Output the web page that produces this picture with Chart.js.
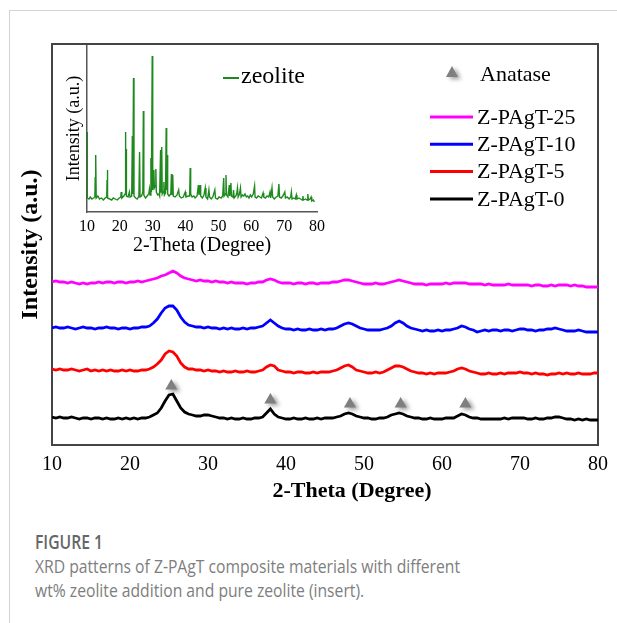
<!DOCTYPE html>
<html>
<head>
<meta charset="utf-8">
<script src="https://cdn.jsdelivr.net/npm/chart.js@4.4.1/dist/chart.umd.min.js"></script>
<style>
  html, body { margin: 0; padding: 0; background: #fff; }
  body { width: 617px; height: 623px; position: relative; overflow: hidden; }
  #frame { position: absolute; left: 9px; top: 10px; width: 620px; height: 620px; border-left: 1px solid #d4d4d4; border-top: 1px solid #d4d4d4; }
  #mainChart { position: absolute; left: 0; top: 0; }
  #insetChart { position: absolute; left: 56px; top: 45px; }
  .cap { position: absolute; left: 35px; font-family: "Open Sans", sans-serif; white-space: nowrap; transform-origin: 0 0; }
  #capLabel { top: 529px; font-size: 19px; font-weight: 600; color: #666; line-height: 26px; }
  #capText { top: 554px; font-size: 18px; color: #7e7e7e; line-height: 24px; }
</style>
</head>
<body>
<div id="frame"></div>
<canvas id="mainChart" width="617" height="510"></canvas>
<canvas id="insetChart" width="274" height="215"></canvas>
<div class="cap" id="capLabel">FIGURE 1</div>
<div class="cap" id="capText"><span id="capLine1">XRD patterns of Z-PAgT composite materials with different</span><br><span>wt% zeolite addition and pure zeolite (insert).</span></div>
<script>
// 2-theta grid of the composite scans (degrees)
const twoTheta = [
  10, 10.5, 11, 11.5, 12, 12.5, 13, 13.5, 14, 14.5,
  15, 15.5, 16, 16.5, 17, 17.5, 18, 18.5, 19, 19.5,
  20, 20.5, 21, 21.5, 22, 22.5, 23, 23.5, 24, 24.5,
  25, 25.5, 26, 26.5, 27, 27.5, 28, 28.5, 29, 29.5,
  30, 30.5, 31, 31.5, 32, 32.5, 33, 33.5, 34, 34.5,
  35, 35.5, 36, 36.5, 37, 37.5, 38, 38.5, 39, 39.5,
  40, 40.5, 41, 41.5, 42, 42.5, 43, 43.5, 44, 44.5,
  45, 45.5, 46, 46.5, 47, 47.5, 48, 48.5, 49, 49.5,
  50, 50.5, 51, 51.5, 52, 52.5, 53, 53.5, 54, 54.5,
  55, 55.5, 56, 56.5, 57, 57.5, 58, 58.5, 59, 59.5,
  60, 60.5, 61, 61.5, 62, 62.5, 63, 63.5, 64, 64.5,
  65, 65.5, 66, 66.5, 67, 67.5, 68, 68.5, 69, 69.5,
  70, 70.5, 71, 71.5, 72, 72.5, 73, 73.5, 74, 74.5,
  75, 75.5, 76, 76.5, 77, 77.5, 78, 78.5, 79, 79.5,
  80,
]

// stacked intensities (a.u.), offset per sample as in the figure
const pagt0 = [
  28, 27, 28, 27, 27, 28, 27, 26, 27, 27,
  26, 27, 27, 26, 27, 26, 26, 27, 26, 27,
  26, 27, 26, 27, 27, 28, 30, 32, 37, 44,
  50, 51, 44, 37, 33, 31, 30, 29, 29, 30,
  30, 29, 28, 27, 27, 26, 27, 26, 26, 27,
  26, 26, 27, 27, 28, 32, 36, 31, 28, 27,
  26, 26, 27, 26, 26, 27, 26, 26, 27, 26,
  27, 27, 27, 28, 29, 31, 32, 31, 29, 28,
  27, 27, 26, 26, 27, 27, 28, 30, 31, 32,
  31, 29, 28, 27, 27, 26, 26, 27, 26, 26,
  26, 27, 27, 27, 29, 31, 30, 28, 27, 27,
  26, 26, 26, 26, 26, 26, 27, 26, 27, 27,
  27, 27, 26, 26, 27, 26, 26, 27, 27, 28,
  28, 27, 26, 26, 25, 26, 25, 26, 25, 25,
  25,
]
const pagt5 = [
  76, 75, 76, 75, 75, 76, 75, 74, 75, 76,
  74, 75, 74, 75, 74, 75, 74, 74, 75, 74,
  75, 74, 74, 75, 75, 76, 78, 81, 85, 91,
  94, 93, 89, 82, 78, 76, 76, 75, 75, 74,
  75, 74, 74, 73, 74, 73, 73, 74, 73, 73,
  74, 73, 73, 74, 75, 78, 80, 79, 75, 74,
  73, 73, 72, 73, 73, 72, 72, 73, 72, 73,
  73, 73, 74, 75, 77, 79, 80, 78, 75, 74,
  73, 72, 72, 73, 72, 73, 75, 77, 79, 79,
  78, 76, 74, 73, 72, 72, 71, 72, 71, 72,
  72, 72, 73, 74, 76, 77, 76, 74, 73, 72,
  71, 71, 72, 71, 71, 72, 71, 72, 72, 72,
  73, 72, 72, 71, 72, 71, 71, 70, 71, 71,
  72, 71, 72, 71, 71, 72, 71, 71, 71, 72,
  72,
]
const pagt10 = [
  117, 118, 117, 117, 118, 117, 116, 117, 118, 117,
  117, 116, 117, 117, 118, 117, 117, 116, 117, 117,
  116, 117, 117, 118, 118, 119, 122, 126, 132, 137,
  139, 139, 135, 128, 123, 120, 119, 118, 118, 117,
  118, 117, 117, 116, 117, 116, 117, 116, 116, 117,
  116, 117, 117, 118, 119, 122, 125, 122, 119, 117,
  116, 116, 115, 116, 115, 115, 116, 115, 115, 116,
  115, 116, 116, 117, 119, 121, 122, 121, 119, 117,
  116, 115, 115, 115, 115, 116, 117, 119, 122, 124,
  122, 119, 117, 116, 115, 114, 115, 114, 114, 115,
  114, 115, 115, 116, 117, 119, 118, 116, 115, 113,
  114, 115, 114, 115, 115, 114, 115, 115, 114, 115,
  116, 116, 115, 115, 114, 115, 115, 116, 116, 117,
  116, 115, 114, 114, 114, 115, 114, 113, 113, 113,
  113,
]
const pagt25 = [
  163, 164, 163, 163, 162, 163, 162, 161, 162, 161,
  162, 162, 163, 162, 163, 163, 162, 163, 163, 162,
  163, 163, 164, 163, 164, 165, 166, 167, 169, 170,
  172, 174, 172, 169, 167, 166, 165, 164, 165, 164,
  164, 163, 164, 163, 163, 162, 163, 162, 162, 162,
  161, 162, 162, 163, 163, 165, 166, 165, 163, 162,
  162, 162, 161, 162, 162, 161, 162, 162, 161, 162,
  162, 162, 163, 163, 164, 165, 165, 164, 163, 162,
  161, 161, 161, 162, 161, 161, 162, 163, 164, 165,
  164, 163, 162, 161, 161, 161, 160, 161, 161, 161,
  161, 162, 161, 162, 162, 162, 162, 161, 161, 161,
  161, 160, 161, 160, 160, 160, 160, 161, 160, 160,
  160, 160, 160, 159, 160, 160, 159, 159, 160, 159,
  160, 160, 160, 159, 160, 159, 159, 158, 158, 158,
  158,
]
const seriesNames = [`Z-PAgT-0`, `Z-PAgT-5`, `Z-PAgT-10`, `Z-PAgT-25`]

// anatase reflections marked above the Z-PAgT-0 pattern
const anataseTheta = [25.3, 38, 48.2, 54.7, 63]
const anataseMark = [59, 45, 41, 41, 41]

// inset: pure zeolite pattern
const zeoliteTheta = [
  10.0, 10.1, 10.6, 11.0, 11.5, 12.0, 12.4, 12.5, 12.6, 12.7,
  12.8, 13.3, 13.8, 14.4, 15.0, 15.5, 16.0, 16.1, 16.2, 16.3,
  16.9, 17.5, 18.0, 18.6, 19.2, 19.8, 20.3, 20.4, 20.6, 21.2,
  21.6, 21.7, 21.8, 21.9, 22.0, 22.5, 22.9, 23.1, 23.6, 23.8,
  23.95, 24.15, 24.3, 24.8, 25.3, 25.8, 26.0, 26.15, 26.6, 27.0,
  27.15, 27.3, 27.8, 28.3, 28.8, 29.0, 29.2, 29.45, 29.6, 29.85,
  30.0, 30.2, 30.35, 30.5, 30.8, 30.95, 31.1, 31.5, 31.9, 32.1,
  32.4, 32.55, 32.75, 32.9, 33.2, 33.4, 33.55, 33.9, 34.1, 34.25,
  34.4, 34.55, 35.0, 35.5, 35.7, 35.85, 36.1, 36.25, 36.8, 37.4,
  37.9, 38.1, 38.7, 39.3, 39.9, 40.1, 40.8, 41.25, 41.4, 41.55,
  42.0, 42.5, 42.9, 43.5, 43.9, 44.1, 44.4, 44.6, 45.1, 45.6,
  46.0, 46.2, 46.7, 47.1, 47.3, 47.8, 48.3, 48.9, 49.1, 49.7,
  50.2, 50.8, 51.3, 51.6, 51.75, 52.1, 52.3, 52.45, 52.9, 53.3,
  53.45, 53.8, 53.95, 54.4, 54.6, 54.8, 55.3, 55.6, 55.8, 56.0,
  56.4, 56.7, 56.9, 57.3, 57.7, 58.1, 58.5, 58.9, 59.3, 59.7,
  60.1, 60.6, 61.0, 61.15, 61.6, 62.1, 62.6, 63.1, 63.6, 63.8,
  64.3, 64.8, 65.3, 65.7, 65.9, 66.3, 66.5, 67.0, 67.6, 68.1,
  68.4, 68.6, 69.1, 69.6, 70.2, 70.4, 70.9, 71.5, 72.0, 72.2,
  72.4, 72.9, 73.4, 73.7, 73.9, 74.5, 75.0, 75.5, 75.7, 75.9,
  76.5, 77.0, 77.2, 77.4, 77.9, 78.2, 78.4, 78.9, 79.2,
]
const zeoliteCounts = [
  80, 14, 13, 15, 13, 14, 15, 35, 16, 57,
  14, 16, 13, 14, 12, 14, 15, 32, 42, 14,
  13, 12, 14, 13, 12, 14, 15, 20, 14, 16,
  18, 80, 20, 63, 16, 15, 20, 15, 16, 76,
  18, 134, 16, 14, 13, 16, 60, 15, 16, 20,
  101, 17, 14, 16, 18, 23, 17, 54, 20, 156,
  22, 30, 42, 24, 26, 43, 20, 17, 18, 16,
  62, 20, 65, 18, 20, 30, 17, 19, 84, 22,
  57, 18, 16, 18, 38, 17, 37, 16, 15, 17,
  22, 16, 14, 15, 20, 15, 16, 16, 44, 18,
  15, 16, 14, 16, 27, 17, 27, 16, 14, 17,
  24, 15, 13, 22, 15, 13, 15, 22, 14, 13,
  15, 14, 16, 34, 16, 18, 37, 17, 15, 27,
  16, 29, 16, 15, 22, 14, 16, 19, 24, 15,
  18, 24, 15, 17, 16, 18, 15, 16, 14, 17,
  15, 18, 26, 15, 14, 16, 15, 14, 19, 15,
  14, 16, 15, 20, 14, 24, 15, 13, 15, 16,
  28, 15, 14, 16, 20, 14, 15, 13, 15, 20,
  13, 14, 13, 17, 13, 14, 13, 12, 16, 12,
  13, 12, 18, 12, 13, 15, 11, 12, 10,
]

const toPoints = (xs, ys) => xs.map((x, i) => ({ x: x, y: ys[i] }))

const serif = `"Liberation Serif", "Times New Roman", serif`
const frameColor = `#444444`

const stackPlugin = {
  id: "stackDecor",
  beforeDatasetDraw(chart, args) {
    if (chart.data.datasets[args.index].label !== `Anatase`) return
    const ctx = chart.ctx
    ctx.save()
    ctx.shadowColor = `rgba(0, 0, 0, 0.4)`
    ctx.shadowBlur = 4
    ctx.shadowOffsetX = 3
    ctx.shadowOffsetY = 2
  },
  afterDatasetDraw(chart, args) {
    if (chart.data.datasets[args.index].label !== `Anatase`) return
    chart.ctx.restore()
  },
  afterDraw(chart) {
    const ctx = chart.ctx
    ctx.save()
    ctx.fillStyle = `#000`
    ctx.textBaseline = "middle"

    // x axis title (sits right of centre in the original)
    ctx.font = `bold 22px ${serif}`
    ctx.textAlign = "center"
    ctx.fillText(`2-Theta (Degree)`, 352, 491)

    // anatase key
    ctx.save()
    ctx.shadowColor = `rgba(0, 0, 0, 0.4)`
    ctx.shadowBlur = 4
    ctx.shadowOffsetX = 3
    ctx.shadowOffsetY = 2
    ctx.fillStyle = `#7f7f7f`
    ctx.beginPath()
    ctx.moveTo(452, 66)
    ctx.lineTo(458, 77)
    ctx.lineTo(446, 77)
    ctx.closePath()
    ctx.fill()
    ctx.restore()
    ctx.font = `22px ${serif}`
    ctx.textAlign = "left"
    ctx.fillText(`Anatase`, 480, 75)

    // series key, top entry is the last dataset
    const lines = chart.data.datasets.filter((d) => d.label !== `Anatase`).reverse()
    lines.forEach((d, i) => {
      const y = 117 + i * 27.3
      ctx.strokeStyle = d.borderColor
      ctx.lineWidth = 3
      ctx.beginPath()
      ctx.moveTo(430, y)
      ctx.lineTo(473, y)
      ctx.stroke()
      ctx.fillText(d.label, 477, y + 1)
    })
    ctx.restore()
  },
}

const noTicks = { display: false }
const noGrid = { display: false, drawTicks: false }
const box = { color: frameColor, width: 2 }

new Chart(document.getElementById(`mainChart`), {
  type: "line",
  data: {
    datasets: [
      { label: seriesNames[0], data: toPoints(twoTheta, pagt0), borderColor: `#000000` },
      { label: seriesNames[1], data: toPoints(twoTheta, pagt5), borderColor: `#ff0000` },
      { label: seriesNames[2], data: toPoints(twoTheta, pagt10), borderColor: `#0000ff` },
      { label: seriesNames[3], data: toPoints(twoTheta, pagt25), borderColor: `#ff00ff` },
      {
        label: `Anatase`,
        data: toPoints(anataseTheta, anataseMark),
        showLine: false,
        pointStyle: "triangle",
        pointRadius: 7,
        pointBackgroundColor: `#7f7f7f`,
        pointBorderWidth: 0,
        borderColor: `#7f7f7f`,
      },
    ],
  },
  options: {
    responsive: false,
    animation: false,
    events: [],
    datasets: { line: { borderWidth: 2.8, pointRadius: 0, tension: 0 } },
    layout: { padding: { top: 44, right: 19, left: 0, bottom: 0 } },
    plugins: { legend: { display: false }, tooltip: { enabled: false } },
    scales: {
      x: {
        type: "linear",
        min: 10,
        max: 80,
        ticks: { stepSize: 10, color: `#000`, padding: 8, font: { family: serif, size: 20 } },
        grid: noGrid,
        border: box,
        afterFit: (s) => { s.height = 65 },
      },
      y: {
        min: 0,
        max: 401,
        ticks: noTicks,
        grid: noGrid,
        border: box,
        title: {
          display: true,
          text: `Intensity (a.u.)`,
          color: `#000`,
          font: { family: serif, size: 24, weight: "bold" },
          padding: { top: 16, bottom: 0 },
        },
        afterFit: (s) => { s.width = 52 },
      },
      xTop: {
        type: "linear",
        position: "top",
        min: 10,
        max: 80,
        ticks: noTicks,
        grid: noGrid,
        border: box,
        afterFit: (s) => { s.height = 0 },
      },
      yRight: {
        type: "linear",
        position: "right",
        min: 0,
        max: 401,
        ticks: noTicks,
        grid: noGrid,
        border: box,
        afterFit: (s) => { s.width = 0 },
      },
    },
  },
  plugins: [stackPlugin],
})

const insetKey = {
  id: "insetKey",
  afterDraw(chart) {
    const ctx = chart.ctx
    const d = chart.data.datasets[0]
    ctx.save()
    ctx.strokeStyle = d.borderColor
    ctx.lineWidth = 2
    ctx.beginPath()
    ctx.moveTo(167, 33)
    ctx.lineTo(183, 33)
    ctx.stroke()
    ctx.fillStyle = `#000`
    ctx.font = `24px ${serif}`
    ctx.textBaseline = "middle"
    ctx.fillText(d.label, 185, 32)
    ctx.restore()
  },
}

const insetAxis = { color: `#555555`, width: 1.5 }

new Chart(document.getElementById(`insetChart`), {
  type: "line",
  data: {
    datasets: [
      {
        label: `zeolite`,
        data: toPoints(zeoliteTheta, zeoliteCounts),
        borderColor: `#1e8a1e`,
        borderWidth: 1.4,
        pointRadius: 0,
        tension: 0,
      },
    ],
  },
  options: {
    responsive: false,
    animation: false,
    events: [],
    layout: { padding: { top: 0, right: 9, left: 0, bottom: 0 } },
    plugins: { legend: { display: false }, tooltip: { enabled: false } },
    scales: {
      x: {
        type: "linear",
        min: 10,
        max: 80,
        ticks: { stepSize: 10, color: `#000`, padding: 5, font: { family: serif, size: 16 } },
        grid: noGrid,
        border: insetAxis,
        title: {
          display: true,
          text: `2-Theta (Degree)`,
          color: `#000`,
          font: { family: serif, size: 20 },
          padding: { top: 0, bottom: 2 },
        },
        afterFit: (s) => { s.height = 48 },
      },
      y: {
        min: 0,
        max: 167,
        ticks: noTicks,
        grid: noGrid,
        border: insetAxis,
        title: {
          display: true,
          text: `Intensity (a.u.)`,
          color: `#000`,
          font: { family: serif, size: 18 },
          padding: { top: 7, bottom: 0 },
        },
        afterFit: (s) => { s.width = 31 },
      },
    },
  },
  plugins: [insetKey],
})

// squeeze the caption to the narrow face used in the original
const line1 = document.getElementById(`capLine1`)
const squeeze = 425 / line1.getBoundingClientRect().width
document.getElementById(`capText`).style.transform = `scaleX(${squeeze})`
const label = document.getElementById(`capLabel`)
label.style.transform = `scaleX(${68 / label.getBoundingClientRect().width})`
</script>
</body>
</html>
